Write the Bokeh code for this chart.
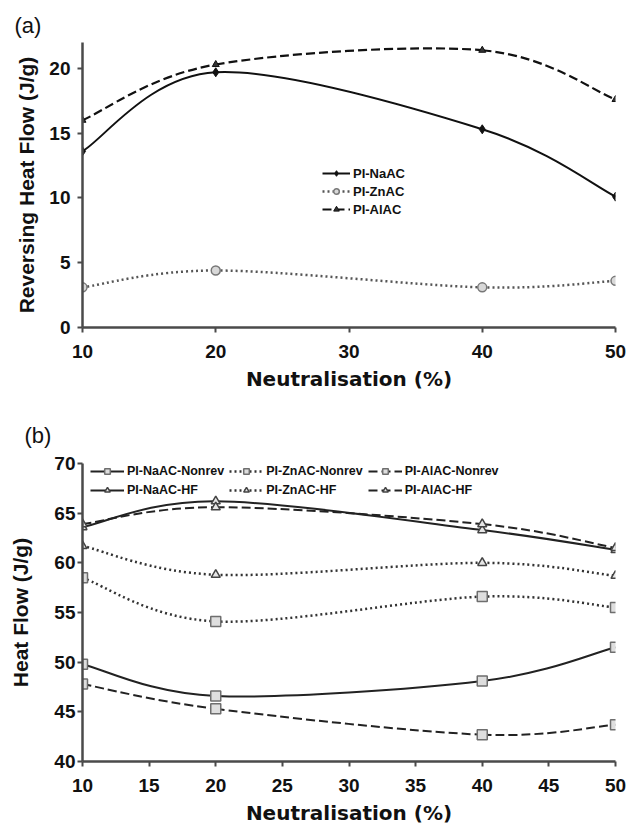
from bokeh.plotting import figure
from bokeh.layouts import column
from bokeh.models import Legend, LegendItem, FixedTicker, Range1d
from bokeh.embed import file_html
from bokeh.resources import INLINE

# ---------------- data ----------------
neut_a = [10, 20, 40, 50]
a_naac = [13.6, 19.7, 15.3, 10.1]
a_znac = [3.1, 4.4, 3.1, 3.6]
a_alac = [16.0, 20.3, 21.4, 17.6]
a_xticks = [10, 20, 30, 40, 50]
a_yticks = [0, 5, 10, 15, 20]

neut_b = [10, 20, 40, 50]
b_naac_nonrev = [49.8, 46.6, 48.1, 51.5]
b_znac_nonrev = [58.5, 54.1, 56.6, 55.5]
b_alac_nonrev = [47.8, 45.3, 42.7, 43.7]
b_naac_hf = [63.6, 66.2, 63.3, 61.3]
b_znac_hf = [61.7, 58.8, 60.0, 58.7]
b_alac_hf = [63.9, 65.6, 63.9, 61.5]
b_xticks = [10, 15, 20, 25, 30, 35, 40, 45, 50]
b_yticks = [40, 45, 50, 55, 60, 65, 70]

TICK_FONT = "Liberation Sans"
TITLE_FONT = "Liberation Sans"


def smooth(xs, ys):
    """Bezier control points for an Excel-like smoothed line through the data."""
    n = len(xs)
    out = dict(x0=[], y0=[], x1=[], y1=[], cx0=[], cy0=[], cx1=[], cy1=[])
    for i in range(n - 1):
        pm = (xs[i - 1], ys[i - 1]) if i > 0 else (xs[i], ys[i])
        p0 = (xs[i], ys[i])
        p1 = (xs[i + 1], ys[i + 1])
        pp = (xs[i + 2], ys[i + 2]) if i + 2 < n else p1
        out["x0"].append(p0[0]); out["y0"].append(p0[1])
        out["x1"].append(p1[0]); out["y1"].append(p1[1])
        out["cx0"].append(p0[0] + (p1[0] - pm[0]) / 6.0)
        out["cy0"].append(p0[1] + (p1[1] - pm[1]) / 6.0)
        out["cx1"].append(p1[0] - (pp[0] - p0[0]) / 6.0)
        out["cy1"].append(p1[1] - (pp[1] - p0[1]) / 6.0)
    return out


def style_axes(p, xticks, yticks, xlabel, ylabel, ylab_standoff, ystand):
    p.xaxis.ticker = FixedTicker(ticks=xticks)
    p.yaxis.ticker = FixedTicker(ticks=yticks)
    for ax in (p.xaxis, p.yaxis):
        ax.axis_line_color = "#4a4a4a"
        ax.axis_line_width = 2.5
        ax.major_tick_line_color = "#4a4a4a"
        ax.major_tick_line_width = 2
        ax.major_tick_out = 5
        ax.major_tick_in = 0
        ax.minor_tick_line_color = None
        ax.major_label_text_font = TICK_FONT
        ax.major_label_text_font_style = "bold"
        ax.major_label_text_font_size = "19px"
        ax.major_label_text_color = "#111111"
        ax.major_label_text_line_height = 1.0
        ax.axis_label_text_font_style = "bold"
        ax.axis_label_text_color = "#111111"
        ax.axis_label_text_line_height = 1.0
    p.xaxis.major_label_standoff = 12
    p.yaxis.major_label_standoff = ystand
    p.xaxis.axis_label = xlabel
    p.xaxis.axis_label_text_font = "DejaVu Sans"
    p.xaxis.axis_label_text_font_size = "20px"
    p.xaxis.axis_label_standoff = 6
    p.yaxis.axis_label = ylabel
    p.yaxis.axis_label_text_font = TITLE_FONT
    p.yaxis.axis_label_text_font_size = "21px"
    p.yaxis.axis_label_standoff = ylab_standoff
    p.xgrid.grid_line_color = None
    p.ygrid.grid_line_color = None
    p.outline_line_color = None


def panel_title(p, text, offset, standoff):
    p.title.text = text
    p.title.align = "left"
    p.title.offset = offset
    p.title.standoff = standoff
    p.title.text_font = "Liberation Sans"
    p.title.text_font_style = "normal"
    p.title.text_font_size = "22px"
    p.title.text_color = "#111111"


# ---------------- panel (a) ----------------
pa = figure(width=632, height=398, x_range=Range1d(10, 50), y_range=Range1d(0, 22),
            output_backend="svg", toolbar_location=None,
            min_border_left=82, min_border_right=17, min_border_top=42, min_border_bottom=71)
style_axes(pa, a_xticks, a_yticks, "Neutralisation (%)", "Reversing Heat Flow (J/g)", 8, 7)
panel_title(pa, "(a)", -68, 10)

r_na_l = pa.bezier(**smooth(neut_a, a_naac), line_color="#111111", line_width=2)
r_na_m = pa.scatter(neut_a, a_naac, marker="diamond", size=9, fill_color="#111111", line_color="#111111")
r_zn_l = pa.bezier(**smooth(neut_a, a_znac), line_color="#555555", line_width=2.5, line_dash="2 3")
r_zn_m = pa.scatter(neut_a, a_znac, marker="circle", size=9, fill_color="#d8d8d8", line_color="#777777", line_width=1.5)
r_al_l = pa.bezier(**smooth(neut_a, a_alac), line_color="#111111", line_width=2.2, line_dash="9 4")
r_al_m = pa.scatter(neut_a, a_alac, marker="triangle", size=7, fill_color="#333333", line_color="#111111")

leg_a = Legend(items=[
    LegendItem(label="PI-NaAC", renderers=[r_na_l, r_na_m]),
    LegendItem(label="PI-ZnAC", renderers=[r_zn_l, r_zn_m]),
    LegendItem(label="PI-AlAC", renderers=[r_al_l, r_al_m]),
], location=(240, 110.5), orientation="vertical")
leg_a.background_fill_alpha = 0
leg_a.border_line_alpha = 0
leg_a.padding = 0
leg_a.margin = 0
leg_a.spacing = 3
leg_a.glyph_width = 28
leg_a.glyph_height = 14
leg_a.label_height = 14
leg_a.label_standoff = 3
leg_a.label_text_font = "Liberation Sans"
leg_a.label_text_font_style = "bold"
leg_a.label_text_font_size = "13px"
leg_a.label_text_color = "#111111"
pa.add_layout(leg_a)

# ---------------- panel (b) ----------------
pb = figure(width=632, height=429, x_range=Range1d(10, 50), y_range=Range1d(40, 70),
            output_backend="svg", toolbar_location=None,
            min_border_left=72, min_border_right=15, min_border_top=65, min_border_bottom=64)
style_axes(pb, b_xticks, b_yticks, "Neutralisation (%)", "Heat Flow (J/g)", 19, 2)
panel_title(pb, "(b)", -58, 32)

sq = dict(size=10, fill_color="#dedede", line_color="#6e6e6e", line_width=1.5)
tri = dict(size=9, fill_color="#e6e6e6", line_color="#444444", line_width=1.5)

r1l = pb.bezier(**smooth(neut_b, b_naac_nonrev), line_color="#222222", line_width=2)
r1m = pb.scatter(neut_b, b_naac_nonrev, marker="square", **sq)
r2l = pb.bezier(**smooth(neut_b, b_znac_nonrev), line_color="#333333", line_width=2.5, line_dash="2 3")
r2m = pb.scatter(neut_b, b_znac_nonrev, marker="square", **sq)
r3l = pb.bezier(**smooth(neut_b, b_alac_nonrev), line_color="#222222", line_width=2, line_dash="9 4")
r3m = pb.scatter(neut_b, b_alac_nonrev, marker="square", **sq)
r4l = pb.bezier(**smooth(neut_b, b_naac_hf), line_color="#222222", line_width=2)
r4m = pb.scatter(neut_b, b_naac_hf, marker="triangle", **tri)
r5l = pb.bezier(**smooth(neut_b, b_znac_hf), line_color="#333333", line_width=2.5, line_dash="2 3")
r5m = pb.scatter(neut_b, b_znac_hf, marker="triangle", **tri)
r6l = pb.bezier(**smooth(neut_b, b_alac_hf), line_color="#222222", line_width=2, line_dash="9 4")
r6m = pb.scatter(neut_b, b_alac_hf, marker="triangle", **tri)

leg_b = Legend(items=[
    LegendItem(label="PI-NaAC-Nonrev", renderers=[r1l, r1m]),
    LegendItem(label="PI-ZnAC-Nonrev", renderers=[r2l, r2m]),
    LegendItem(label="PI-AlAC-Nonrev", renderers=[r3l, r3m]),
    LegendItem(label="PI-NaAC-HF", renderers=[r4l, r4m]),
    LegendItem(label="PI-ZnAC-HF", renderers=[r5l, r5m]),
    LegendItem(label="PI-AlAC-HF", renderers=[r6l, r6m]),
], location=(8, 264), orientation="horizontal", ncols=3)
leg_b.background_fill_alpha = 0
leg_b.border_line_alpha = 0
leg_b.padding = 0
leg_b.margin = 0
leg_b.spacing = 5
leg_b.glyph_width = 34
leg_b.glyph_height = 14
leg_b.label_height = 14
leg_b.label_standoff = 3
leg_b.label_text_font = "Liberation Sans"
leg_b.label_text_font_style = "bold"
leg_b.label_text_font_size = "12.5px"
leg_b.label_text_color = "#111111"
pb.add_layout(leg_b)

layout = column(pa, pb, spacing=0)
open("out.html", "w").write(file_html(layout, INLINE))
